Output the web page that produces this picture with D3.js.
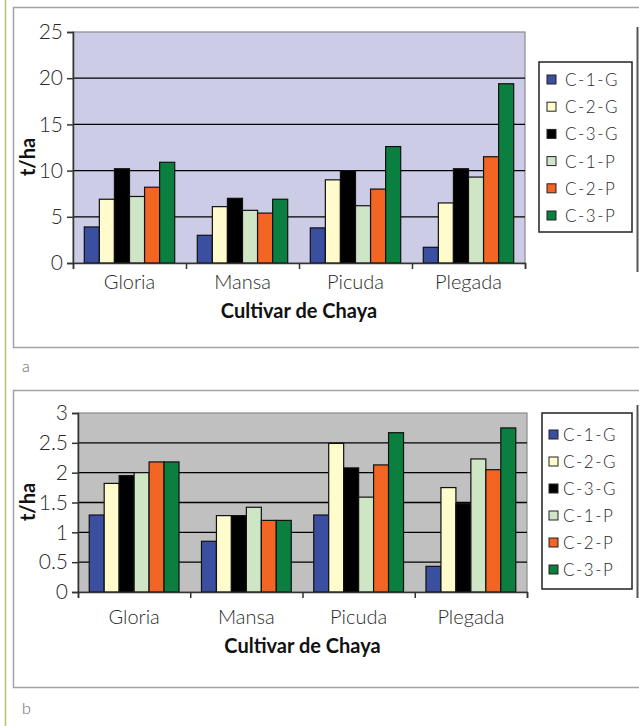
<!DOCTYPE html>
<html><head><meta charset="utf-8">
<script src="https://cdn.jsdelivr.net/npm/d3@7"></script>
<style>
html,body{margin:0;padding:0;background:#fff;}
svg{display:block;font-family:Lato, "Open Sans", sans-serif;}
</style></head>
<body><svg id="c" width="639" height="726"></svg>
<script>
const categories = ["Gloria", "Mansa", "Picuda", "Plegada"];
const seriesNames = ["C-1-G", "C-2-G", "C-3-G", "C-1-P", "C-2-P", "C-3-P"];
const seriesColors = ["#3a4f9f", "#fffbcc", "#000000", "#cfe6c6", "#f26522", "#0b7f3f"];
// Chart a (t/ha), one array per series, ordered as categories
const a_C1G = [3.9, 3.0, 3.8, 1.7];
const a_C2G = [6.9, 6.1, 9.0, 6.5];
const a_C3G = [10.2, 7.0, 10.0, 10.2];
const a_C1P = [7.2, 5.7, 6.2, 9.3];
const a_C2P = [8.2, 5.4, 8.0, 11.5];
const a_C3P = [10.9, 6.9, 12.6, 19.4];
const a_ticks = [0, 5, 10, 15, 20, 25];
// Chart b (t/ha)
const b_C1G = [1.29, 0.85, 1.29, 0.43];
const b_C2G = [1.82, 1.28, 2.49, 1.75];
const b_C3G = [1.95, 1.28, 2.08, 1.48];
const b_C1P = [2.0, 1.42, 1.59, 2.23];
const b_C2P = [2.18, 1.2, 2.13, 2.05];
const b_C3P = [2.18, 1.2, 2.67, 2.75];
const b_ticks = [0, 0.5, 1, 1.5, 2, 2.5, 3];
const yTitle = "t/ha";
const xTitle = "Cultivar de Chaya";

const svg = d3.select("#c");

// page decorations
svg.append("line").attr("x1",5.5).attr("x2",5.5).attr("y1",0).attr("y2",726).attr("stroke","#b8c46c").attr("stroke-width",1.5);

function frame(y0, y1, rightTop, rightBot, label, labelY){
  const g = svg.append("g");
  g.append("path").attr("d",`M639,${y0}H13.5V${y1}H639`).attr("fill","none").attr("stroke","#a3a3a3").attr("stroke-width",1.5);
  g.append("line").attr("x1",637.5).attr("x2",637.5).attr("y1",rightTop).attr("y2",rightBot).attr("stroke","#555").attr("stroke-width",2);
  g.append("text").attr("x",22).attr("y",labelY).attr("font-size",16).attr("fill","#666").attr("font-weight",300).text(label);
}
frame(7.5, 347.5, 27, 272, "a", 372);
frame(390.5, 687.5, 405, 598, "b", 714);

function drawChart(opt){
  const series = opt.series;
  const g = svg.append("g");
  const x = d3.scaleBand().domain(categories).range([opt.left, opt.right]).paddingInner(0.2).paddingOuter(0.1);
  const x1 = d3.scaleBand().domain(seriesNames).range([0, x.bandwidth()]);
  const y = d3.scaleLinear().domain([0, opt.max]).range([opt.bottom, opt.top]);
  g.append("rect").attr("x",opt.left).attr("y",opt.top).attr("width",opt.right-opt.left).attr("height",opt.bottom-opt.top)
    .attr("fill",opt.bg).attr("stroke","#8a8a8a").attr("stroke-width",1.2);
  // gridlines
  g.append("g").selectAll("line").data(opt.ticks.filter(t=>t>0 && t<opt.max)).join("line")
    .attr("x1",opt.left).attr("x2",opt.right).attr("y1",d=>y(d)).attr("y2",d=>y(d))
    .attr("stroke","#000").attr("stroke-width",1.3);
  // bars
  const rows = [];
  categories.forEach((c,i)=>series.forEach((s,j)=>rows.push({c, s:seriesNames[j], v:s[i], col:seriesColors[j]})));
  g.append("g").selectAll("rect").data(rows).join("rect")
    .attr("x",d=>x(d.c)+x1(d.s)).attr("width",x1.bandwidth())
    .attr("y",d=>y(d.v)).attr("height",d=>y(0)-y(d.v))
    .attr("fill",d=>d.col).attr("stroke","#111").attr("stroke-width",1.2);
  // y axis
  const ya = d3.axisLeft(y).tickValues(opt.ticks).tickSize(6).tickPadding(4).tickFormat(d=>String(d));
  const yg = g.append("g").attr("transform",`translate(${opt.left},0)`).call(ya);
  yg.select(".domain").attr("stroke","#333").attr("stroke-width",1.5);
  yg.selectAll(".tick line").attr("stroke","#333").attr("stroke-width",1.5);
  yg.selectAll(".tick text").attr("font-size",21).attr("fill","#2a2a2a").attr("font-weight",300).attr("font-family","Lato, sans-serif");
  // x axis
  const xb = d3.scaleLinear().domain([0,4]).range([opt.left,opt.right]);
  const xa = d3.axisBottom(xb).tickValues([0,1,2,3,4]).tickSize(6).tickFormat("");
  const xg = g.append("g").attr("transform",`translate(0,${opt.bottom})`).call(xa);
  xg.select(".domain").attr("stroke","#333").attr("stroke-width",1.5);
  xg.selectAll(".tick line").attr("stroke","#333").attr("stroke-width",1.5);
  g.append("g").selectAll("text").data(categories).join("text")
    .attr("x",d=>x(d)+x.bandwidth()/2).attr("y",opt.catY).attr("text-anchor","middle")
    .attr("font-size",20).attr("font-weight",300).attr("fill","#2a2a2a").text(d=>d);
  g.append("text").attr("x",(opt.left+opt.right)/2).attr("y",opt.titleY).attr("text-anchor","middle")
    .attr("font-size",20).attr("font-weight","bold").attr("fill","#111").text(xTitle);
  g.append("text").attr("transform",`translate(${opt.yTitleX},${opt.yTitleY}) rotate(-90)`).attr("text-anchor","middle")
    .attr("font-size",20).attr("font-weight","bold").attr("fill","#111").text(yTitle);
  // legend
  const lg = g.append("g");
  lg.append("rect").attr("x",opt.lx).attr("y",opt.ly).attr("width",opt.lw).attr("height",opt.lh)
    .attr("fill","#fff").attr("stroke","#222").attr("stroke-width",1.5);
  const it = lg.selectAll("g").data(seriesNames).join("g")
    .attr("transform",(d,i)=>`translate(${opt.lx},${opt.ly0 + i*opt.lstep})`);
  it.append("rect").attr("x",opt.sx).attr("y",-5).attr("width",9).attr("height",9)
    .attr("fill",(d,i)=>seriesColors[i]).attr("stroke","#222").attr("stroke-width",1);
  it.append("text").attr("x",opt.tx).attr("y",6).attr("font-size",17).attr("font-weight",300).attr("fill","#2a2a2a").attr("letter-spacing",1.5).text(d=>d);
}

drawChart({series:[a_C1G,a_C2G,a_C3G,a_C1P,a_C2P,a_C3P], ticks:a_ticks, max:25,
  left:73, right:525, top:32, bottom:263, bg:"#ccccE6", catY:289, titleY:318, yTitleX:35, yTitleY:157,
  lx:539, ly:62, lw:93, lh:170, ly0:80, lstep:27.2, sx:8, tx:26});
drawChart({series:[b_C1G,b_C2G,b_C3G,b_C1P,b_C2P,b_C3P], ticks:b_ticks, max:3,
  left:78, right:527, top:413, bottom:592, bg:"#c0c0c0", catY:624, titleY:653, yTitleX:35, yTitleY:502,
  lx:542, ly:413, lw:90, lh:176, ly0:435, lstep:27, sx:7, tx:21});
</script></body></html>
